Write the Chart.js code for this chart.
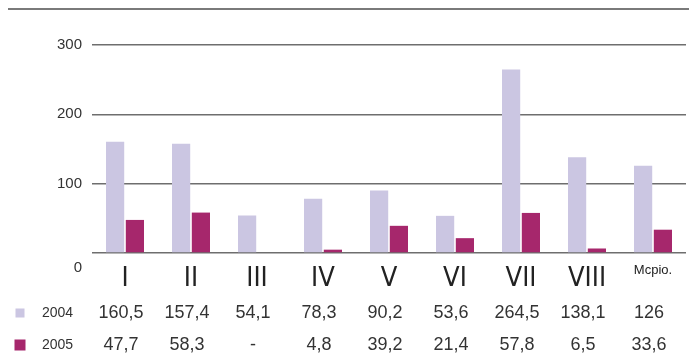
<!DOCTYPE html>
<html>
<head>
<meta charset="utf-8">
<script src="https://cdn.jsdelivr.net/npm/chart.js@4"></script>
<style>
  html, body { margin: 0; padding: 0; background: #fff; }
  #wrap { width: 689px; height: 363px; position: relative; }
</style>
</head>
<body>
<div id="wrap"><canvas id="chart"></canvas></div>
<script>
const categories = ["I", "II", "III", "IV", "V", "VI", "VII", "VIII", "Mcpio."];
const seriesNames = ["2004", "2005"];
const values2004 = [160.5, 157.4, 54.1, 78.3, 90.2, 53.6, 264.5, 138.1, 126];
const values2005 = [47.7, 58.3, null, 4.8, 39.2, 21.4, 57.8, 6.5, 33.6];
const yTicks = [0, 100, 200, 300];

const colors = ["#cbc6e2", "#a6276c"];
const fontFamily = "'Liberation Sans', Arial, sans-serif";
const narrowFamily = "'Liberation Sans Narrow', 'DejaVu Sans Condensed', 'Liberation Sans', sans-serif";

function fmt(v) {
  if (v === null) return "-";
  return String(v).replace(".", ",");
}

// top rule + data table under the axis
const tablePlugin = {
  id: "table",
  beforeDraw(chart) {
    const ctx = chart.ctx;
    ctx.save();
    ctx.strokeStyle = "#7a7a7a";
    ctx.lineWidth = 2;
    ctx.beginPath();
    ctx.moveTo(8, 9);
    ctx.lineTo(689, 9);
    ctx.stroke();
    ctx.restore();
  },
  afterDraw(chart) {
    const ctx = chart.ctx;
    const x = chart.scales.x;
    const rows = [values2004, values2005];
    const rowY = [313, 345];
    ctx.save();
    rows.forEach((row, r) => {
      ctx.fillStyle = colors[r];
      const s = r === 0 ? 9 : 11;
      ctx.fillRect(20 - s / 2, rowY[r] - s / 2, s, s);
      ctx.fillStyle = "#333";
      ctx.font = "14px " + fontFamily;
      ctx.textAlign = "left";
      ctx.textBaseline = "middle";
      ctx.fillText(seriesNames[r], 42, rowY[r]);
      ctx.font = "18px " + fontFamily;
      ctx.textAlign = "center";
      row.forEach((v, i) => {
        ctx.fillText(fmt(v), x.getPixelForValue(i) - 4, rowY[r]);
      });
    });
    ctx.restore();
  }
};

new Chart(document.getElementById("chart"), {
  type: "bar",
  data: {
    labels: categories,
    datasets: [
      {
        label: seriesNames[0],
        data: values2004,
        backgroundColor: colors[0],
        categoryPercentage: 0.6,
        barPercentage: 0.92
      },
      {
        label: seriesNames[1],
        data: values2005,
        backgroundColor: colors[1],
        categoryPercentage: 0.6,
        barPercentage: 0.92
      }
    ]
  },
  options: {
    responsive: true,
    maintainAspectRatio: false,
    animation: false,
    layout: {
      padding: { top: 45, right: 3, bottom: 64, left: 0 }
    },
    plugins: {
      legend: { display: false },
      tooltip: { enabled: false }
    },
    scales: {
      x: {
        grid: { display: false },
        border: { display: false },
        afterFit: (scale) => {
          scale.height = 46;
        },
        ticks: {
          color: "#222",
          padding: 2,
          font: (c) => ({
            family: c.index === 8 ? fontFamily : narrowFamily,
            size: c.index === 8 ? 13 : 27
          }),
          callback: (v, i) => categories[i]
        }
      },
      y: {
        min: 0,
        max: 300,
        afterBuildTicks: (scale) => {
          scale.ticks = yTicks.map((v) => ({ value: v }));
        },
        afterFit: (scale) => {
          scale.width = 92;
        },
        border: { display: false },
        grid: {
          color: "#6e6e6e",
          lineWidth: 1.5,
          drawTicks: false
        },
        ticks: {
          color: "#333",
          padding: 10,
          font: { family: fontFamily, size: 15, lineHeight: 1 },
          callback: (v) => (v === 0 ? ["", "", "0"] : String(v))
        }
      }
    }
  },
  plugins: [tablePlugin]
});
</script>
</body>
</html>
